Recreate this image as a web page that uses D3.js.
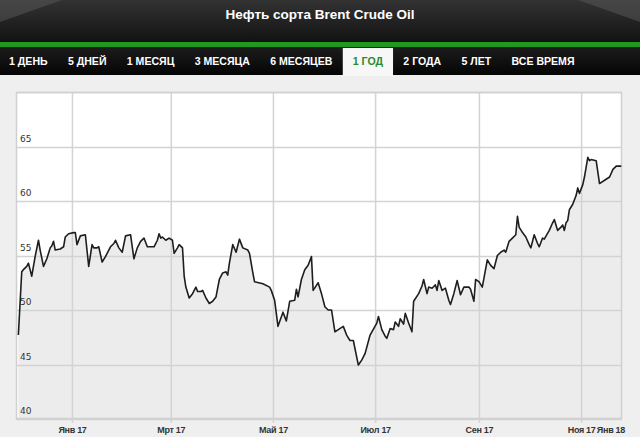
<!DOCTYPE html>
<html>
<head>
<meta charset="utf-8">
<script src="https://cdn.jsdelivr.net/npm/d3@7/dist/d3.min.js"></script>
<style>
  html, body { margin: 0; padding: 0; background: #efefef; }
  svg { display: block; }
</style>
</head>
<body>
<svg id="chart" width="640" height="437"></svg>
<script>
// ---------------- DATA ----------------
const title = "Нефть сорта Brent Crude Oil";
const tabs = ["1 ДЕНЬ", "5 ДНЕЙ", "1 МЕСЯЦ", "3 МЕСЯЦА", "6 МЕСЯЦЕВ", "1 ГОД", "2 ГОДА", "5 ЛЕТ", "ВСЕ ВРЕМЯ"];
const activeTab = "1 ГОД";

// days since 2017-01-01
const days = [-32,-30,-29,-27,-26,-24,-22,-20,-19,-17,-15,-13,-12,-11,-10,-7,-5,-4,-2,1,2,3,5,8,10,12,13,15,16,18,20,22,23,25,26,28,30,32,35,36,37,39,41,43,45,49,51,52,53,54,56,58,60,61,63,64,66,67,68,70,72,74,75,77,78,80,82,84,86,88,90,92,93,94,96,98,100,102,105,106,108,109,114,118,119,121,123,126,128,130,133,134,135,137,139,141,143,144,147,149,151,153,155,157,159,162,164,166,168,171,173,175,178,182,183,185,187,188,190,192,193,195,196,198,199,201,203,204,207,209,210,212,213,215,217,218,219,221,223,225,226,228,230,232,234,237,238,240,241,243,245,248,250,252,254,256,258,259,261,263,265,266,267,269,271,273,274,276,278,279,281,282,285,287,288,289,290,292,293,294,295,296,297,299,301,302,303,305,306,308,309,310,313,315,318,321,323,325,328];
const prices = [47.7,53.5,53.7,54.0,54.3,53.1,54.9,56.4,55.5,54.0,54.7,55.7,55.9,56.3,55.5,55.6,55.8,56.7,57.0,57.1,57.1,56.0,56.8,56.9,54.0,56.0,55.7,55.7,55.8,54.4,54.9,55.5,55.8,56.1,56.4,55.7,55.3,56.8,56.9,55.8,54.7,55.7,56.3,56.6,55.8,55.8,56.4,57.0,56.6,56.7,56.4,56.6,56.4,55.2,55.7,56.0,55.7,53.1,52.1,51.1,51.5,52.1,51.7,51.7,51.8,51.1,50.6,50.8,51.2,52.8,53.4,53.5,53.2,54.3,56.0,55.3,56.5,55.7,55.5,55.2,53.4,52.6,52.4,52.1,51.8,50.9,48.5,49.8,49.0,50.8,50.9,51.9,51.2,52.8,53.7,54.1,54.9,51.8,52.5,51.5,50.3,50.0,50.0,48.0,48.2,48.5,47.7,47.2,47.2,44.95,45.4,46.0,47.7,48.8,49.4,48.2,47.6,47.4,48.3,48.2,48.9,48.5,49.2,48.7,49.7,48.8,48.0,50.8,51.5,52.2,52.8,51.5,52.1,52.0,52.3,51.8,52.7,51.8,52.0,50.9,50.5,51.5,52.7,51.4,52.1,52.1,51.9,50.8,52.8,52.6,52.1,54.6,54.1,53.8,55.0,55.3,55.5,55.3,56.3,56.6,56.9,58.6,57.6,57.1,56.7,56.0,55.7,56.9,56.1,55.8,56.6,56.5,57.3,58.0,58.3,57.8,57.3,57.6,57.8,57.3,58.0,58.2,59.2,59.7,60.5,61.2,60.7,61.5,62.2,64.0,63.7,63.8,63.7,61.6,61.9,62.2,62.9,63.2,63.2];

const yTicks = [40, 45, 50, 55, 60, 65];
const xTickDates = ["2017-01-01", "2017-03-01", "2017-05-01", "2017-07-01", "2017-09-01", "2017-11-01"];
const xTickLabels = ["Янв 17", "Мрт 17", "Май 17", "Июл 17", "Сен 17", "Ноя 17"];
const endLabel = "Янв 18";

// ---------------- LAYOUT ----------------
const W = 640, H = 437;
const plot = { left: 16, top: 92, right: 622, bottom: 419 };
const base = new Date(Date.UTC(2017, 0, 1));
const parse = d3.utcParse("%Y-%m-%d");

const svg = d3.select("#chart");
const defs = svg.append("defs");

const hg = defs.append("linearGradient").attr("id", "hdr").attr("x1", 0).attr("y1", 0).attr("x2", 0).attr("y2", 1);
hg.append("stop").attr("offset", "0%").attr("stop-color", "#333333");
hg.append("stop").attr("offset", "100%").attr("stop-color", "#111111");
const tg = defs.append("linearGradient").attr("id", "tabbar").attr("x1", 0).attr("y1", 0).attr("x2", 0).attr("y2", 1);
tg.append("stop").attr("offset", "0%").attr("stop-color", "#1c1c1c");
tg.append("stop").attr("offset", "100%").attr("stop-color", "#050505");

// page background
svg.append("rect").attr("width", W).attr("height", H).attr("fill", "#efefef");

// header
svg.append("rect").attr("x", 0).attr("y", 0).attr("width", W).attr("height", 43).attr("fill", "url(#hdr)");
svg.append("path").attr("d", "M0,0 L62,0 L0,22 Z").attr("fill", "#5a5a5a").attr("opacity", 0.5);
svg.append("path").attr("d", "M640,0 L578,0 L640,22 Z").attr("fill", "#5a5a5a").attr("opacity", 0.5);
svg.append("text").attr("x", W / 2).attr("y", 19).attr("text-anchor", "middle")
  .attr("font-family", "'Liberation Sans', Arial, sans-serif").attr("font-weight", "bold")
  .attr("font-size", 13.5).attr("fill", "#ffffff").text(title);

// green stripe
svg.append("rect").attr("x", 0).attr("y", 42).attr("width", W).attr("height", 5).attr("fill", "#1f9a1f");
// tab bar
svg.append("rect").attr("x", 0).attr("y", 47).attr("width", W).attr("height", 28).attr("fill", "url(#tabbar)");

const tabG = svg.append("g");
const squeeze = 0.92;
let tx = 9;
tabs.forEach(t => {
  const txt = tabG.append("text").attr("transform", `translate(${tx},64.5) scale(${squeeze},1)`)
    .attr("font-family", "'Liberation Sans', Arial, sans-serif")
    .attr("font-weight", "bold").attr("font-size", 11.5)
    .attr("fill", t === activeTab ? "#2a8a2a" : "#ffffff").text(t);
  const w = txt.node().getComputedTextLength() * squeeze;
  if (t === activeTab) {
    tabG.insert("rect", "text").attr("x", tx - 10).attr("y", 48).attr("width", w + 20).attr("height", 28)
      .attr("fill", "#f7f7f7");
  }
  tx += w + 20.3;
});

// plot background
svg.append("rect").attr("x", plot.left).attr("y", plot.top)
  .attr("width", plot.right - plot.left).attr("height", plot.bottom - plot.top).attr("fill", "#ffffff");

const x = d3.scaleUtc()
  .domain([d3.utcHour.offset(base, Math.round(-33.4 * 24)), d3.utcHour.offset(base, Math.round(328.4 * 24))])
  .range([plot.left, plot.right]);
const y = d3.scaleLinear().domain([40, 70]).range([plot.bottom, plot.top]);

const data = days.map((d, i) => ({ date: d3.utcDay.offset(base, d), v: prices[i] }));

// area
const area = d3.area().x(d => x(d.date)).y0(plot.bottom).y1(d => y(d.v));
svg.append("path").datum(data).attr("d", area).attr("fill", "#ececec");

// grid - horizontal
svg.append("g").selectAll("line").data(yTicks.concat([70])).join("line")
  .attr("x1", plot.left).attr("x2", plot.right)
  .attr("y1", d => Math.round(y(d)) + 0.5).attr("y2", d => Math.round(y(d)) + 0.5)
  .attr("stroke", "#d3d3d3").attr("stroke-width", 1.5);

// grid - vertical via axis
const xTicks = xTickDates.map(parse);
const xAxis = d3.axisBottom(x).tickValues(xTicks).tickSize(plot.bottom - plot.top + 4)
  .tickFormat((d, i) => xTickLabels[i]);
const gx = svg.append("g").attr("transform", `translate(0,${plot.top})`).call(xAxis);
gx.select(".domain").remove();
gx.selectAll(".tick line").attr("stroke", "#d3d3d3").attr("stroke-width", 1.5);
gx.selectAll(".tick text").attr("dy", 0).attr("y", plot.bottom - plot.top + 14)
  .attr("font-family", "'Liberation Sans', Arial, sans-serif").attr("font-size", 9)
  .attr("letter-spacing", -0.3)
  .attr("fill", "#333").attr("font-weight", "bold");
svg.append("text").attr("x", plot.right + 3).attr("y", plot.bottom + 14).attr("text-anchor", "end")
  .attr("font-family", "'Liberation Sans', Arial, sans-serif").attr("font-size", 9)
  .attr("letter-spacing", -0.3)
  .attr("font-weight", "bold").attr("fill", "#333").text(endLabel);

// plot border
svg.append("rect").attr("x", plot.left + 0.5).attr("y", plot.top + 0.5)
  .attr("width", plot.right - plot.left - 1).attr("height", plot.bottom - plot.top - 1)
  .attr("fill", "none").attr("stroke", "#d0d0d0").attr("stroke-width", 1.5);

// line
const line = d3.line().x(d => x(d.date)).y(d => y(d.v));
svg.append("path").datum(data).attr("d", line).attr("fill", "none")
  .attr("stroke", "#1e1e1e").attr("stroke-width", 1.6).attr("stroke-linejoin", "round");

// y labels (inside plot, above gridlines)
svg.append("g").selectAll("text").data(yTicks).join("text")
  .attr("x", plot.left + 4).attr("y", d => y(d) - 5)
  .attr("font-family", "'DejaVu Sans', Verdana, sans-serif").attr("font-size", 9)
  .attr("fill", "#333").text(d => d);
</script>
</body>
</html>
